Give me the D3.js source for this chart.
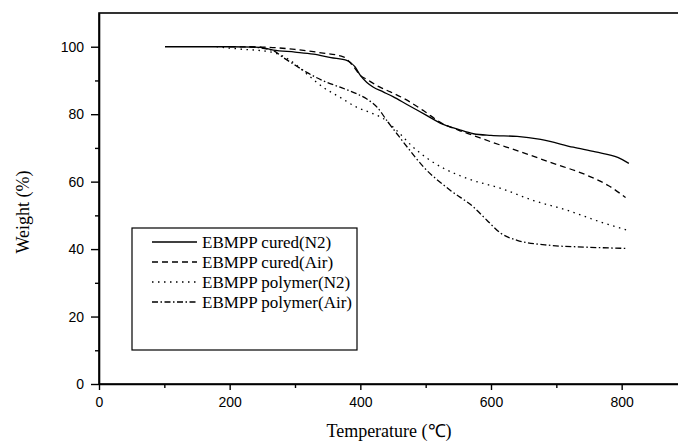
<!DOCTYPE html>
<html>
<head>
<meta charset="utf-8">
<script src="https://cdn.jsdelivr.net/npm/d3@7"></script>
<style>
    body { margin: 0; background: #fff; }
    svg { display: block; background: #fff; }
</style>
</head>
<body>
<svg id="drawing_region"></svg>
<script>
// values (temperature in C, weight in %)
const curedN2Temp    = [101, 150, 200, 247, 267, 300, 328, 355, 380, 392, 400, 410, 420, 435, 450, 472, 500, 523, 550, 573, 600, 640, 676, 726, 760, 794, 811];
const curedN2Weight  = [100, 100, 100, 99.8, 99, 98.4, 97.8, 96.8, 95.9, 94, 91.5, 89.4, 88, 86.6, 85.2, 82.8, 79.8, 77.3, 75.5, 74.2, 73.7, 73.4, 72.5, 70.2, 68.8, 67.2, 65.4];

const curedAirTemp   = [200, 250, 300, 340, 374, 390, 400, 410, 430, 446, 470, 497, 523, 550, 573, 600, 640, 691, 748, 780, 806];
const curedAirWeight = [100, 99.9, 99.2, 98.2, 97, 94, 91.5, 90.3, 88, 86.6, 84.3, 81, 77.5, 75.3, 73.7, 71.8, 69.2, 65.7, 61.8, 58.8, 55.3];

const polyN2Temp     = [180, 216, 250, 267, 293, 318, 343, 369, 395, 420, 435, 456, 481, 507, 528, 564, 615, 665, 717, 768, 809];
const polyN2Weight   = [100, 99.3, 98.8, 98.3, 95.9, 91.9, 88, 85, 82, 80.1, 78.7, 75.1, 70.2, 66.3, 63.9, 60.9, 58, 54.4, 51.5, 48, 45.6];

const polyAirTemp    = [230, 267, 282, 298, 318, 343, 369, 395, 410, 426, 441, 456, 472, 497, 538, 573, 594, 615, 640, 691, 742, 809];
const polyAirWeight  = [100, 98.8, 96.8, 94.8, 92.4, 89.9, 88, 86, 84.5, 82, 78, 74.2, 70.2, 64.3, 57.4, 52.5, 48.5, 44.7, 42.6, 41.1, 40.6, 40.2];

const seriesNames = ['EBMPP cured(N2)', 'EBMPP cured(Air)', 'EBMPP polymer(N2)', 'EBMPP polymer(Air)'];
const xTicks = [0, 200, 400, 600, 800];
const xMinorTicks = [100, 300, 500, 700];
const yTicks = [0, 20, 40, 60, 80, 100];
const yMinorTicks = [10, 30, 50, 70, 90];

class TGAChart {
    constructor (config, data){
        this.config = {
            parent: config.parent,
            width: config.width || 678,
            height: config.height || 444,
            margin: config.margin || {top:13, right:-9, bottom:60, left:99},
            dashes: config.dashes,
        }
        this.data = data;
        this.init();
    }

    init() {
        let self = this;

        self.svg = d3.select( self.config.parent )
            .attr('width', self.config.width)
            .attr('height', self.config.height);

        self.chart = self.svg.append('g')
            .attr('transform', `translate(${self.config.margin.left}, ${self.config.margin.top})`);

        self.inner_width = self.config.width - self.config.margin.left - self.config.margin.right;
        self.inner_height = self.config.height - self.config.margin.top - self.config.margin.bottom;
    }

    update() {
        let self = this;

        self.xscale = d3.scaleLinear()
            .domain([0, 900])
            .range([0, self.inner_width]);

        self.yscale = d3.scaleLinear()
            .domain([0, 110])
            .range([self.inner_height, 0]);

        self.line = d3.line()
            .x( d => self.xscale(d.t) )
            .y( d => self.yscale(d.w) )
            .curve(d3.curveMonotoneX);

        self.render();
    }

    render() {
        let self = this;
        const sans = '"Liberation Sans", Arial, sans-serif';
        const serif = '"Liberation Serif", "Times New Roman", serif';

        // frame
        self.chart.append('rect')
            .attr('width', self.inner_width)
            .attr('height', self.inner_height)
            .attr('fill', 'none')
            .attr('stroke', 'black')
            .attr('stroke-width', 1.6);

        // minor ticks
        self.chart.append('g')
            .attr('transform', `translate(0, ${self.inner_height})`)
            .call( d3.axisBottom(self.xscale).tickValues(xMinorTicks).tickSize(4).tickSizeOuter(0).tickFormat('') )
            .call( g => g.select('.domain').remove() );
        self.chart.append('g')
            .call( d3.axisLeft(self.yscale).tickValues(yMinorTicks).tickSize(4).tickSizeOuter(0).tickFormat('') )
            .call( g => g.select('.domain').remove() );

        // major ticks
        const xaxis = self.chart.append('g')
            .attr('transform', `translate(0, ${self.inner_height})`)
            .call( d3.axisBottom(self.xscale).tickValues(xTicks).tickSize(6).tickSizeOuter(0).tickPadding(7) );
        const yaxis = self.chart.append('g')
            .call( d3.axisLeft(self.yscale).tickValues(yTicks).tickSize(8).tickSizeOuter(0).tickPadding(7) );

        self.chart.selectAll('.tick line').attr('stroke', 'black').attr('stroke-width', 1.4);
        self.chart.selectAll('.domain').attr('stroke', 'black').attr('stroke-width', 1.6);
        [xaxis, yaxis].forEach( a => a.selectAll('text')
            .style('font-family', sans)
            .style('font-size', '14px')
            .attr('fill', 'black') );

        // curves
        self.chart.selectAll('.curve')
            .data(self.data)
            .enter()
            .append('path')
            .attr('class', 'curve')
            .attr('d', d => self.line(d.values))
            .attr('fill', 'none')
            .attr('stroke', 'black')
            .attr('stroke-width', 1.3)
            .attr('stroke-dasharray', (d, i) => self.config.dashes[i]);

        // axis titles
        self.svg.append('text')
            .attr('x', 389)
            .attr('y', 437)
            .attr('text-anchor', 'middle')
            .style('font-family', serif)
            .style('font-size', '18px')
            .text('Temperature (\u2103)');

        self.svg.append('text')
            .attr('transform', 'translate(29, 212) rotate(-90)')
            .attr('text-anchor', 'middle')
            .style('font-family', serif)
            .style('font-size', '18px')
            .text('Weight (%)');

        // legend
        const legend = self.svg.append('g')
            .attr('transform', 'translate(132, 228)');
        legend.append('rect')
            .attr('width', 225)
            .attr('height', 122)
            .attr('fill', 'white')
            .attr('stroke', 'black')
            .attr('stroke-width', 1.2);

        const item = legend.selectAll('.item')
            .data(self.data)
            .enter()
            .append('g')
            .attr('transform', (d, i) => `translate(0, ${14 + i*20})`);
        item.append('line')
            .attr('x1', 20).attr('x2', 65)
            .attr('stroke', 'black')
            .attr('stroke-width', 1.3)
            .attr('stroke-dasharray', (d, i) => self.config.dashes[i]);
        item.append('text')
            .attr('x', 70)
            .attr('dy', '0.35em')
            .style('font-family', serif)
            .style('font-size', '17px')
            .text(d => d.label);
    }
}

const temps = [curedN2Temp, curedAirTemp, polyN2Temp, polyAirTemp];
const weights = [curedN2Weight, curedAirWeight, polyN2Weight, polyAirWeight];
const formated_data = seriesNames.map( (name, i) => ({
    label: name,
    values: temps[i].map( (t, j) => ({ t: t, w: weights[i][j] }) )
}));

const config = {
    parent: '#drawing_region',
    width: 678,
    height: 444,
    margin: {top:13, right:-9, bottom:60, left:99},
    dashes: [null, '6,4', '1.5,4.5', '6,2.5,1.5,2.5'],
};

const tgaChart = new TGAChart( config, formated_data );
tgaChart.update();
</script>
</body>
</html>
